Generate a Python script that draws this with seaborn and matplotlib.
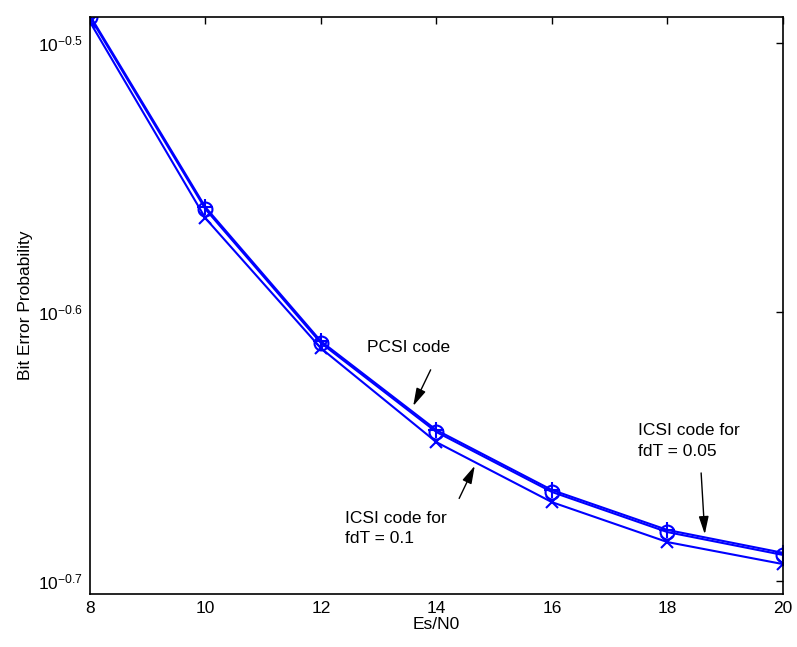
import numpy as np
import pandas as pd
import matplotlib
matplotlib.use("Agg")
import matplotlib.pyplot as plt
import seaborn as sns

es_n0 = [8, 10, 12, 14, 16, 18, 20]
pcsi = [0.32380, 0.27479, 0.24500, 0.22706, 0.21570, 0.20845, 0.20441]
icsi_005 = [0.32338, 0.27434, 0.24462, 0.22668, 0.21534, 0.20807, 0.20404]
icsi_01 = [0.32202, 0.27221, 0.24354, 0.22472, 0.21347, 0.20630, 0.20245]

ytick_vals = [10 ** -0.7, 10 ** -0.6, 10 ** -0.5]
ytick_labels = [r"$10^{-0.7}$", r"$10^{-0.6}$", r"$10^{-0.5}$"]
xtick_vals = [8, 10, 12, 14, 16, 18, 20]

sns.set_theme(style="white")
plt.rcParams["font.family"] = ["Liberation Sans", "DejaVu Sans"]
plt.rcParams["mathtext.fontset"] = "custom"
plt.rcParams["mathtext.rm"] = "Liberation Sans"
plt.rcParams["mathtext.it"] = "Liberation Sans"
plt.rcParams["text.color"] = "black"
plt.rcParams["axes.labelcolor"] = "black"
plt.rcParams["xtick.color"] = "black"
plt.rcParams["ytick.color"] = "black"

fig = plt.figure(figsize=(7.97, 6.47), dpi=100)
ax = fig.add_axes([0.1129, 0.0819, 0.8695, 0.8918])

blue = (0, 0, 1)
sns.lineplot(x=es_n0, y=pcsi, ax=ax, color=blue, lw=1.5, marker="+",
             markersize=12, markeredgewidth=1.5, markeredgecolor=blue)
sns.lineplot(x=es_n0, y=icsi_005, ax=ax, color=blue, lw=1.5, marker="o",
             markersize=10, markerfacecolor="none", markeredgewidth=1.5,
             markeredgecolor=blue)
sns.lineplot(x=es_n0, y=icsi_01, ax=ax, color=blue, lw=1.5, marker="x",
             markersize=8, markeredgewidth=1.5, markeredgecolor=blue)

ax.set_yscale("log")
ax.set_xlim(8, 20)
ax.set_ylim(0.19733, 0.3234)
ax.set_yticks(ytick_vals)
ax.set_yticklabels(ytick_labels)
ax.yaxis.set_minor_locator(matplotlib.ticker.NullLocator())
ax.set_xticks(xtick_vals)
ax.set_xticklabels([str(v) for v in xtick_vals])

ax.tick_params(direction="in", length=5, width=1, colors="black",
               labelsize=12.5, top=True, right=True, pad=5)
for s in ax.spines.values():
    s.set_color("black")
    s.set_linewidth(1.2)

ax.set_xlabel("Es/N0", fontsize=12.5, labelpad=1, color="black")
ax.set_ylabel("Bit Error Probability", fontsize=12.5, labelpad=4, color="black")

arrowprops = dict(arrowstyle="-|>,head_length=0.9,head_width=0.25",
                  color="black", lw=1)
ax.annotate("", xy=(13.576, 0.2313), xytext=(13.92, 0.2396),
            arrowprops=arrowprops)
ax.annotate("", xy=(14.684, 0.2207), xytext=(14.372, 0.2137),
            arrowprops=arrowprops)
ax.annotate("", xy=(18.649, 0.2072), xytext=(18.58, 0.2194),
            arrowprops=arrowprops)

ax.text(0.459, 0.428, "PCSI code", transform=ax.transAxes,
        ha="center", va="center", fontsize=12.5, color="black")
ax.text(0.368, 0.144, "ICSI code for\nfdT = 0.1", transform=ax.transAxes,
        ha="left", va="top", fontsize=12.5, linespacing=1.45, color="black")
ax.text(0.791, 0.296, "ICSI code for\nfdT = 0.05", transform=ax.transAxes,
        ha="left", va="top", fontsize=12.5, linespacing=1.45, color="black")

fig.savefig("out.png", dpi=100)
